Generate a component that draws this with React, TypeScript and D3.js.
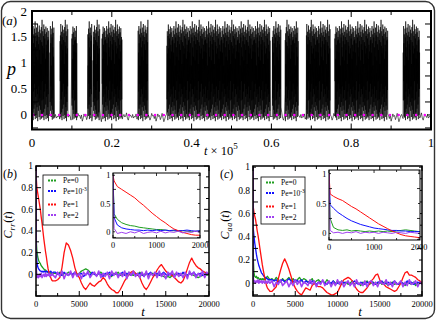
import React from 'react';
import * as d3 from 'd3';

const FONT = "'Liberation Serif', 'Times New Roman', serif";

// ---------- panel (a): p(t) trace ----------
const burstStart = [0.0, 0.045, 0.07, 0.1, 0.14, 0.153, 0.175, 0.266, 0.338, 0.602, 0.634, 0.687, 0.759, 0.93];
const burstEnd = [0.042, 0.055, 0.09, 0.113, 0.15, 0.17, 0.226, 0.291, 0.597, 0.624, 0.667, 0.747, 0.892, 0.972];
const spikeHigh = [1.45, 1.62, 1.2, 1.71, 1.38, 1.55, 0.95, 1.66, 1.49, 1.8, 1.3, 1.58, 1.12, 1.68, 1.42, 1.53, 1.75, 1.05, 1.6, 1.36, 1.5, 1.72, 1.25, 1.64, 1.44, 1.57, 0.98, 1.69, 1.4, 1.83, 1.33, 1.61, 1.18, 1.52, 1.74, 1.28, 1.65, 1.47, 1.56, 1.08, 1.7, 1.35, 1.59, 1.22, 1.67, 1.43, 1.5];
const spikeLow = [-0.05, 0.3, 0.05, -0.1, 0.45, 0.12, -0.02, 0.6, 0.2, -0.08, 0.35, 0.0, 0.5, -0.06, 0.15, 0.4, -0.12, 0.25, 0.08, 0.55, -0.04, 0.18, 0.32, -0.09, 0.1, 0.48, 0.02, -0.07, 0.28, 0.65, -0.03];
const quietNoise = [-0.02, -0.05, 0.01, -0.06, -0.03, -0.04, 0.02, -0.08, -0.04, 0.0, -0.03, -0.1, -0.05, 0.03, -0.02, -0.01, -0.07, 0.0, -0.12, -0.06, 0.02, -0.03, -0.01, -0.09, -0.04, 0.03, -0.05, -0.13, -0.08, -0.02, 0.01, -0.04, -0.02, 0.04, -0.06, -0.1, -0.03, 0.0];
const aTickLabelsX = [0, 0.2, 0.4, 0.6, 0.8, 1];
const aTickLabelsY = [0, 0.5, 1, 1.5, 2];

// ---------- panels (b),(c): correlation functions ----------
const legendNames = ['Pe=0', 'Pe=10', 'Pe=1', 'Pe=2'];
const legendSup = ['', '-3', '', ''];
const seriesColors = ['#1f9e1f', '#1010ff', '#ff1010', '#a040f0'];

const tEarly = [0, 25, 100, 200, 300, 400, 500, 600, 700, 800, 900, 1000, 1100, 1200, 1300, 1400, 1500, 1600, 1700, 1800, 1900, 2000];
const tLate = d3.range(2250, 20001, 250);

// C_rr
const bGreenEarly = [1, 0.32, 0.22, 0.16, 0.13, 0.11, 0.1, 0.08, 0.07, 0.06, 0.05, 0.04, 0.04, 0.03, 0.02, 0.02, 0.01, 0.02, 0.01, 0.0, 0.01, 0.01];
const bBlueEarly = [1, 0.25, 0.12, 0.07, 0.05, 0.04, 0.03, 0.03, 0.02, 0.03, 0.02, 0.03, 0.02, 0.03, 0.02, 0.03, 0.02, 0.02, 0.03, 0.02, 0.01, 0.02];
const bRedEarly = [1, 0.9, 0.8, 0.75, 0.7, 0.65, 0.6, 0.53, 0.47, 0.4, 0.33, 0.27, 0.21, 0.16, 0.1, 0.05, 0.02, -0.01, -0.03, -0.05, -0.06, -0.06];
const bPurpleEarly = [1, 0.06, -0.03, -0.01, -0.03, 0.0, -0.02, 0.01, -0.03, -0.01, 0.0, -0.02, 0.01, -0.02, 0.0, -0.01, 0.01, -0.02, 0.0, -0.01, 0.01, -0.01];
const bGreenLate = [0.01, 0.0, 0.02, -0.01, 0.01, 0.0, 0.02, 0.01, -0.01, 0.02, 0.0, 0.01, 0.03, 0.04, 0.05, 0.04, 0.02, 0.0, 0.01, -0.01, 0.01, 0.02, 0.0, -0.01, 0.01, 0.0, -0.02, 0.01, 0.0, 0.02, -0.01, 0.0, 0.01, -0.01, 0.02, 0.0, -0.01, 0.01, 0.0, 0.02, -0.01, 0.0, 0.01, -0.02, 0.0, 0.01, -0.01, 0.0, 0.01, -0.01, -0.02, -0.03, -0.02, -0.03, -0.01, 0.0, 0.01, -0.01, 0.0, 0.01, 0.0, -0.01, 0.01, 0.0, -0.01, -0.02, -0.03, -0.02, -0.01, 0.0, -0.01, 0.0];
const bBlueLate = [0.02, 0.0, 0.01, -0.01, 0.02, 0.0, -0.01, 0.01, 0.0, 0.02, -0.01, 0.0, 0.01, -0.02, 0.0, 0.01, -0.01, 0.02, 0.0, -0.01, 0.01, 0.0, -0.02, 0.01, 0.0, 0.02, -0.01, 0.0, 0.01, -0.01, 0.0, 0.02, -0.01, 0.01, 0.0, -0.01, 0.02, 0.0, -0.01, 0.01, 0.0, -0.02, 0.01, 0.0, 0.02, -0.01, 0.0, 0.01, -0.01, 0.0, 0.02, 0.0, -0.01, 0.01, 0.0, -0.02, 0.0, 0.01, -0.01, 0.02, 0.0, -0.01, 0.01, 0.0, 0.02, -0.01, 0.0, 0.01, -0.01, 0.0, 0.01, 0.0];
const bRedLate = [-0.06, -0.05, -0.03, 0.06, 0.2, 0.29, 0.27, 0.22, 0.15, 0.06, 0.0, -0.03, -0.08, -0.12, -0.14, -0.11, -0.08, -0.1, -0.11, -0.09, -0.07, -0.06, -0.03, -0.05, -0.09, -0.12, -0.14, -0.15, -0.17, -0.17, -0.14, -0.1, -0.06, -0.03, 0.0, 0.02, 0.03, 0.01, 0.0, -0.03, -0.08, -0.12, -0.14, -0.11, -0.07, -0.03, 0.0, 0.04, 0.07, 0.09, 0.06, 0.03, 0.01, 0.0, -0.01, -0.03, -0.05, -0.07, -0.08, -0.06, -0.01, 0.05, 0.11, 0.15, 0.11, 0.08, 0.06, 0.05, 0.03, 0.02, 0.01, 0.0];
const bPurpleLate = [-0.03, 0.02, -0.02, 0.03, -0.04, 0.01, -0.01, 0.03, -0.03, 0.02, -0.02, 0.01, -0.04, 0.02, -0.01, 0.03, -0.03, 0.0, 0.02, -0.02, 0.03, -0.03, 0.01, -0.02, 0.02, -0.04, 0.03, -0.01, 0.02, -0.03, 0.01, -0.02, 0.03, -0.04, 0.02, -0.01, 0.03, -0.02, 0.01, -0.03, 0.02, -0.02, 0.03, -0.04, 0.01, -0.01, 0.02, -0.03, 0.03, -0.02, 0.01, -0.04, 0.02, -0.01, 0.03, -0.03, 0.02, -0.02, 0.01, -0.03, 0.02, -0.04, 0.03, -0.01, 0.02, -0.03, 0.01, -0.02, 0.03, -0.03, 0.02, -0.01];

// C_aa
const cGreenEarly = [1, 0.25, 0.1, 0.06, 0.05, 0.06, 0.04, 0.05, 0.04, 0.03, 0.04, 0.03, 0.04, 0.03, 0.04, 0.03, 0.04, 0.05, 0.06, 0.05, 0.04, 0.03];
const cBlueEarly = [1, 0.48, 0.42, 0.35, 0.3, 0.25, 0.21, 0.18, 0.15, 0.13, 0.11, 0.09, 0.08, 0.07, 0.06, 0.05, 0.05, 0.04, 0.04, 0.03, 0.03, 0.03];
const cRedEarly = [1, 0.66, 0.62, 0.58, 0.55, 0.5, 0.45, 0.41, 0.36, 0.31, 0.26, 0.21, 0.16, 0.12, 0.08, 0.04, 0.01, -0.02, -0.04, -0.05, -0.06, -0.07];
const cPurpleEarly = [1, 0.05, 0.01, 0.02, 0.0, 0.02, 0.01, 0.03, 0.0, 0.02, 0.01, 0.02, 0.0, 0.02, 0.01, 0.0, 0.02, 0.01, 0.0, 0.02, 0.01, 0.0];
const cGreenLate = [0.04, 0.02, 0.05, 0.03, 0.01, 0.04, 0.02, 0.03, 0.05, 0.02, 0.04, 0.01, 0.03, 0.05, 0.02, 0.04, 0.03, 0.01, 0.02, 0.04, 0.0, 0.02, 0.03, 0.01, 0.02, 0.0, 0.03, 0.01, -0.01, 0.02, 0.0, 0.01, -0.01, 0.02, 0.0, 0.01, -0.01, 0.0, 0.02, -0.01, 0.01, 0.0, -0.02, 0.01, 0.0, 0.02, -0.01, 0.0, 0.01, -0.01, 0.0, 0.02, -0.01, 0.01, 0.0, -0.02, 0.0, 0.01, -0.01, 0.0, -0.01, 0.01, 0.0, -0.02, 0.01, 0.0, -0.01, 0.01, -0.02, 0.0, 0.01, 0.0];
const cBlueLate = [0.03, 0.02, 0.03, 0.01, 0.02, 0.03, 0.01, 0.02, 0.04, 0.02, 0.01, 0.03, 0.02, 0.01, 0.03, 0.0, 0.02, 0.01, 0.0, 0.02, 0.01, -0.01, 0.01, 0.0, 0.02, 0.0, -0.01, 0.01, 0.0, 0.02, -0.01, 0.0, 0.01, -0.01, 0.01, 0.0, 0.01, -0.01, 0.0, 0.02, 0.0, -0.01, 0.01, 0.0, -0.01, 0.01, 0.0, 0.02, 0.0, -0.01, 0.01, 0.0, 0.02, -0.01, 0.0, 0.01, -0.01, 0.0, 0.02, 0.0, -0.01, 0.01, 0.0, -0.01, 0.02, 0.0, 0.01, -0.01, 0.0, 0.01, 0.0, 0.01];
const cRedLate = [-0.07, -0.05, -0.03, 0.04, 0.11, 0.17, 0.21, 0.17, 0.12, 0.06, 0.0, -0.04, -0.07, -0.09, -0.1, -0.07, -0.04, -0.05, -0.06, -0.02, 0.0, -0.02, -0.03, -0.03, -0.04, -0.06, -0.08, -0.09, -0.1, -0.1, -0.09, -0.08, -0.04, 0.0, 0.03, 0.04, 0.05, 0.04, 0.02, -0.02, -0.05, -0.07, -0.08, -0.08, -0.06, -0.04, -0.01, 0.02, 0.04, 0.07, 0.08, 0.03, 0.0, -0.01, -0.03, -0.04, -0.05, -0.06, -0.07, -0.06, -0.03, 0.0, 0.05, 0.09, 0.1, 0.07, 0.07, 0.06, 0.05, 0.03, 0.02, 0.0];
const cPurpleLate = [0.02, -0.03, 0.01, -0.01, 0.03, -0.02, 0.0, 0.02, -0.03, 0.01, -0.02, 0.03, -0.01, 0.02, -0.03, 0.01, 0.0, -0.02, 0.03, -0.01, 0.02, -0.03, 0.01, -0.01, 0.03, -0.02, 0.0, 0.02, -0.03, 0.01, -0.02, 0.03, -0.01, 0.02, -0.03, 0.0, 0.02, -0.02, 0.01, -0.03, 0.03, -0.01, 0.0, -0.02, 0.02, -0.03, 0.01, 0.02, -0.02, 0.01, -0.03, 0.02, 0.0, -0.01, 0.03, -0.02, 0.01, -0.03, 0.02, -0.01, 0.0, 0.02, -0.03, 0.01, -0.02, 0.03, -0.01, 0.0, 0.02, -0.03, 0.01, -0.01];

const corrTicksX = [0, 5000, 10000, 15000, 20000];
const corrTicksY = [0, 0.2, 0.4, 0.6, 0.8, 1];
const insetTicksX = [0, 1000, 2000];
const insetTicksY = [0, 0.5, 1];

type Pt = [number, number];

function buildSignal(): Pt[] {
  const pts: Pt[] = [];
  const N = 2300;
  let h = 0, l = 0, q = 0;
  for (let i = 0; i <= N; i++) {
    const x = i / N;
    const inBurst = burstStart.some((s, j) => x >= s && x <= burstEnd[j]);
    if (inBurst) {
      const v = i % 2 === 0 ? spikeHigh[h++ % spikeHigh.length] : spikeLow[l++ % spikeLow.length];
      pts.push([x, v]);
    } else {
      if (i % 5 !== 0) continue;
      pts.push([x, quietNoise[q++ % quietNoise.length]]);
    }
  }
  return pts;
}

function series(early: number[], late: number[]): Pt[] {
  const t = tEarly.concat(tLate);
  const v = early.concat(late);
  return t.map((tt, i) => [tt, v[i]] as Pt);
}

const bSeries = [series(bGreenEarly, bGreenLate), series(bBlueEarly, bBlueLate), series(bRedEarly, bRedLate), series(bPurpleEarly, bPurpleLate)];
const cSeries = [series(cGreenEarly, cGreenLate), series(cBlueEarly, cBlueLate), series(cRedEarly, cRedLate), series(cPurpleEarly, cPurpleLate)];

type Scale = d3.ScaleLinear<number, number>;

function Ticks({ x, y, xs, ys, len, sw = 1 }: { x: Scale; y: Scale; xs: number[]; ys: number[]; len: number[]; sw?: number }) {
  const [x0, x1] = x.range();
  const [y0, y1] = y.range();
  const out: JSX.Element[] = [];
  xs.forEach((v, i) => {
    const L = len[i % len.length];
    const px = x(v);
    out.push(<line key={'xb' + i} x1={px} x2={px} y1={y0} y2={y0 - L} />);
    out.push(<line key={'xt' + i} x1={px} x2={px} y1={y1} y2={y1 + L} />);
  });
  ys.forEach((v, i) => {
    const L = len[i % len.length];
    const py = y(v);
    out.push(<line key={'yl' + i} x1={x0} x2={x0 + L} y1={py} y2={py} />);
    out.push(<line key={'yr' + i} x1={x1} x2={x1 - L} y1={py} y2={py} />);
  });
  return <g stroke="#000" strokeWidth={sw}>{out}</g>;
}

function CorrPanel({ id, x, y, ix, iy, data, legendX, legendY, legendW, legendH, labelX, labelTx, ylabelX, sub, panelLetter }: any) {
  const line = (sx: Scale, sy: Scale) => d3.line<Pt>().x(d => sx(d[0])).y(d => sy(d[1]));
  const [x0, x1] = x.range();
  const [y0, y1] = y.range();
  const [ix0, ix1] = ix.range();
  const [iy0, iy1] = iy.range();
  const mainLine = line(x, y);
  const insetLine = line(ix, iy);
  const rowY = [legendY + 8, legendY + 18.5, legendY + 32, legendY + 42.5];
  return (
    <g fontFamily={FONT}>
      <defs>
        <clipPath id={id + 'm'}><rect x={x0} y={y1} width={x1 - x0} height={y0 - y1} /></clipPath>
        <clipPath id={id + 'i'}><rect x={ix0} y={iy1} width={ix1 - ix0} height={iy0 - iy1} /></clipPath>
      </defs>
      <rect x={x0} y={y1} width={x1 - x0} height={y0 - y1} fill="#fff" />
      <g clipPath={`url(#${id}m)`}>
        {data.map((s: Pt[], i: number) => (
          <path key={i} d={mainLine(s) || ''} fill="none" stroke={seriesColors[i]} strokeWidth={i === 3 ? 1.6 : 1.3} strokeLinejoin="round" />
        ))}
      </g>
      <Ticks x={x} y={y}
        xs={d3.range(0, 20001, 2500)} ys={d3.range(-0.2, 1.001, 0.1).filter((v: number) => v >= y.domain()[0] - 1e-9)}
        len={[5, 3]} />
      <rect x={x0} y={y1} width={x1 - x0} height={y0 - y1} fill="none" stroke="#000" strokeWidth={1.5} />
      {corrTicksX.map(v => (
        <text key={'bx' + v} x={x(v)} y={y0 + 11} fontSize={8.5} textAnchor="middle">{v}</text>
      ))}
      {corrTicksY.map(v => (
        <text key={'by' + v} x={x0 - 3} y={y(v) + 3.3} fontSize={9.5} textAnchor="end">{v}</text>
      ))}
      <text x={labelTx} y={316} fontSize={13} fontStyle="italic" textAnchor="middle">t</text>
      <text transform={`translate(${ylabelX},225) rotate(-90)`} fontSize={12} textAnchor="middle">
        <tspan fontStyle="italic">C</tspan>
        <tspan fontStyle="italic" fontSize={8} dy={2.5} letterSpacing={0.8}>{sub}</tspan>
        <tspan dy={-2.5}>(</tspan>
        <tspan fontStyle="italic">t</tspan>
        <tspan>)</tspan>
      </text>
      <text x={labelX} y={178} fontSize={12}>(<tspan fontStyle="italic">{panelLetter}</tspan>)</text>
      <rect x={legendX} y={legendY} width={legendW} height={legendH} fill="#fff" stroke="#000" strokeWidth={0.8} />
      {legendNames.map((n, i) => (
        <g key={n + i}>
          <line x1={legendX + 5} x2={legendX + 13} y1={rowY[i] - 2.5} y2={rowY[i] - 2.5} stroke={seriesColors[i]} strokeWidth={1.8} strokeDasharray="2 1" />
          <text x={legendX + 20} y={rowY[i]} fontSize={7.5}>
            {n}
            {legendSup[i] ? <tspan fontSize={5.5} dy={-3}>{legendSup[i]}</tspan> : null}
          </text>
        </g>
      ))}
      <rect x={ix0} y={iy1} width={ix1 - ix0} height={iy0 - iy1} fill="#fff" />
      <g clipPath={`url(#${id}i)`}>
        {data.map((s: Pt[], i: number) => (
          <path key={i} d={insetLine(s.filter(d => d[0] <= 2300)) || ''} fill="none" stroke={seriesColors[i]} strokeWidth={1} strokeLinejoin="round" />
        ))}
      </g>
      <Ticks x={ix} y={iy} xs={d3.range(0, 2001, 500)} ys={[-0.1, 0, 0.25, 0.5, 0.75, 1]} len={[3, 2]} sw={0.8} />
      <rect x={ix0} y={iy1} width={ix1 - ix0} height={iy0 - iy1} fill="none" stroke="#000" strokeWidth={1} />
      {insetTicksX.map(v => (
        <text key={'ix' + v} x={ix(v)} y={iy0 + 10} fontSize={8.3} textAnchor="middle">{v}</text>
      ))}
      {insetTicksY.map(v => (
        <text key={'iy' + v} x={ix0 - 2.5} y={iy(v) + 3} fontSize={8.3} textAnchor="end">{v}</text>
      ))}
    </g>
  );
}

export default function App() {
  const ax = d3.scaleLinear().domain([0, 1]).range([32, 431]);
  const ay = d3.scaleLinear().domain([-0.28, 2]).range([129.5, 11]);
  const sig = buildSignal();
  const sigLine = d3.line<Pt>().x(d => ax(d[0])).y(d => ay(d[1]));

  const bX = d3.scaleLinear().domain([0, 20000]).range([36, 209]);
  const bY = d3.scaleLinear().domain([-0.2, 1]).range([296, 166]);
  const biX = d3.scaleLinear().domain([0, 2000]).range([113, 200]);
  const biY = d3.scaleLinear().domain([-0.11, 1.04]).range([238, 173]);

  const cX = d3.scaleLinear().domain([0, 20000]).range([253, 422]);
  const cY = d3.scaleLinear().domain([-0.11, 1.01]).range([296, 166]);
  const ciX = d3.scaleLinear().domain([0, 2020]).range([329, 420]);
  const ciY = d3.scaleLinear().domain([-0.11, 1.06]).range([240, 170]);

  const [ax0, ax1] = ax.range();
  const [ay0, ay1] = ay.range();

  return (
    <svg width={437} height={321} style={{ display: 'block', position: 'absolute', left: 0, top: 0, background: '#fff' }}>
      <rect x={1.5} y={1.5} width={433} height={317} rx={9} ry={9} fill="#fff" stroke="#333" strokeWidth={1.4} />
      <g fontFamily={FONT}>
        <defs>
          <clipPath id="aclip"><rect x={ax0} y={ay1} width={ax1 - ax0} height={ay0 - ay1} /></clipPath>
        </defs>
        <g clipPath="url(#aclip)">
          <path d={sigLine(sig) || ''} fill="none" stroke="#000" strokeWidth={0.6} />
          <line x1={ax(0) + 1.3} x2={ax(1)} y1={ay(0)} y2={ay(0)} stroke="#ff00ff" strokeWidth={2.6} strokeLinecap="round" strokeDasharray="0 8.7" />
        </g>
        <Ticks x={ax} y={ay} xs={d3.range(0, 1.0001, 0.1)} ys={[-0.25, 0, 0.25, 0.5, 0.75, 1, 1.25, 1.5, 1.75, 2]} len={[6, 4]} />
        <rect x={ax0} y={ay1} width={ax1 - ax0} height={ay0 - ay1} fill="none" stroke="#000" strokeWidth={2} />
        {aTickLabelsX.map(v => (
          <text key={'ax' + v} x={ax(v)} y={146.5} fontSize={13} textAnchor="middle">{v}</text>
        ))}
        {aTickLabelsY.map(v => (
          <text key={'ay' + v} x={27} y={ay(v) + 4.5} fontSize={13} textAnchor="end">{v}</text>
        ))}
        <text x={7} y={75} fontSize={18} fontStyle="italic">p</text>
        <text x={2} y={25} fontSize={13}>(<tspan fontStyle="italic">a</tspan>)</text>
        <text x={204} y={155} fontSize={12.5}>
          <tspan fontStyle="italic">t</tspan>
          <tspan> × 10</tspan>
          <tspan fontSize={9} dy={-6}>5</tspan>
        </text>
      </g>
      <CorrPanel id="b" x={bX} y={bY} ix={biX} iy={biY} data={bSeries}
        legendX={43} legendY={175} legendW={45} legendH={50}
        labelX={3} labelTx={143} ylabelX={12} sub="rr" panelLetter="b" />
      <CorrPanel id="c" x={cX} y={cY} ix={ciX} iy={ciY} data={cSeries}
        legendX={261} legendY={177} legendW={44} legendH={47}
        labelX={220} labelTx={360} ylabelX={229} sub="aa" panelLetter="c" />
    </svg>
  );
}
